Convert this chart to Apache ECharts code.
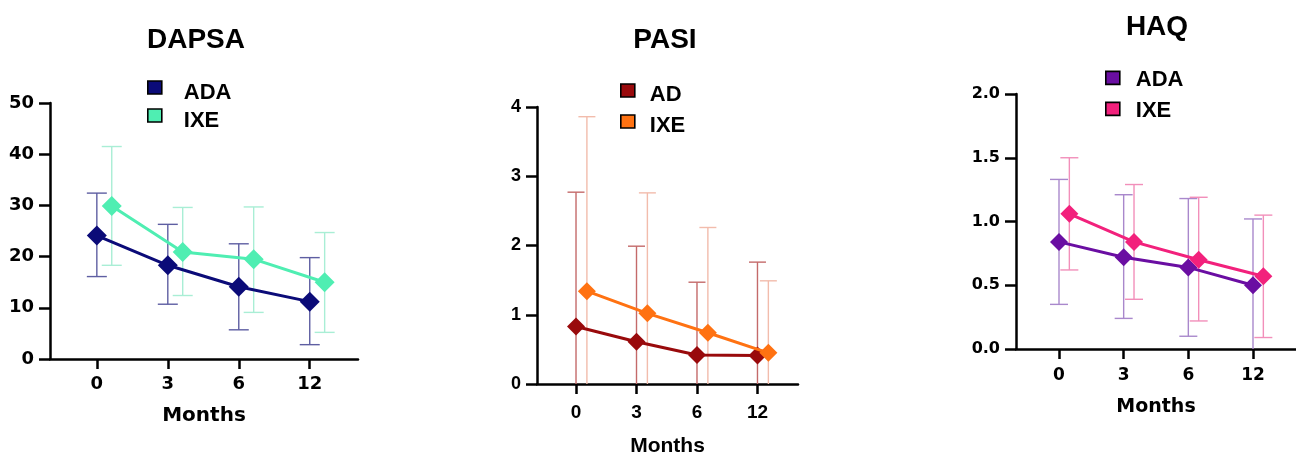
<!DOCTYPE html>
<html>
<head>
<meta charset="utf-8">
<script src="https://cdn.jsdelivr.net/npm/echarts@6/dist/echarts.min.js"></script>
<style>
html,body{margin:0;padding:0;background:#fff;}
#chart{width:1296px;height:455px;}
</style>
</head>
<body>
<div id="chart"></div>
<script>
// ---- data ----
const months = ['0', '3', '6', '12'];

const dapsaAdaMean = [24.1, 18.3, 14.1, 11.2];
const dapsaAdaLow  = [16.1, 10.7, 5.7, 2.8];
const dapsaAdaHigh = [32.4, 26.3, 22.5, 19.8];
const dapsaIxeMean = [29.9, 20.9, 19.5, 15.0];
const dapsaIxeLow  = [18.3, 12.4, 9.1, 5.2];
const dapsaIxeHigh = [41.5, 29.6, 29.7, 24.7];

const pasiAdaMean = [0.83, 0.61, 0.42, 0.41];
const pasiAdaLow  = [0, 0, 0, 0];
const pasiAdaHigh = [2.77, 1.99, 1.47, 1.76];
const pasiIxeMean = [1.34, 1.02, 0.74, 0.45];
const pasiIxeLow  = [0, 0, 0, 0];
const pasiIxeHigh = [3.86, 2.76, 2.26, 1.49];

const haqAdaMean = [0.84, 0.72, 0.64, 0.50];
const haqAdaLow  = [0.35, 0.24, 0.10, 0];
const haqAdaHigh = [1.33, 1.21, 1.18, 1.02];
const haqIxeMean = [1.06, 0.84, 0.70, 0.57];
const haqIxeLow  = [0.62, 0.39, 0.22, 0.09];
const haqIxeHigh = [1.50, 1.29, 1.19, 1.05];

// ---- helpers ----
const chart = echarts.init(document.getElementById('chart'), null, {renderer: 'canvas'});

function errRender(capHalf, color) {
  return function (params, api) {
    const x = api.value(0), lo = api.value(1), hi = api.value(2);
    const pLo = api.coord([x, lo]);
    const pHi = api.coord([x, hi]);
    const st = {stroke: color, lineWidth: 1.4};
    const ch = [
      {type: 'line', shape: {x1: pHi[0], y1: pHi[1], x2: pLo[0], y2: pLo[1]}, style: st},
      {type: 'line', shape: {x1: pHi[0] - capHalf, y1: pHi[1], x2: pHi[0] + capHalf, y2: pHi[1]}, style: st}
    ];
    if (lo > 0) {
      ch.push({type: 'line', shape: {x1: pLo[0] - capHalf, y1: pLo[1], x2: pLo[0] + capHalf, y2: pLo[1]}, style: st});
    }
    return {type: 'group', children: ch};
  };
}

function errData(low, high, off) {
  return low.map((l, i) => [i + off, l, high[i]]);
}
function lineData(mean, off) {
  return mean.map((v, i) => [i + off, v]);
}

const panels = [
  {key: 'DAPSA', title: 'DAPSA', grid: {left: 50, top: 103, width: 308, height: 256},
   xMin: -0.66, xMax: 3.68, yMax: 50, yInt: 10, yFmt: v => String(v),
   off: 0.21, tickFont: 'DejaVu Sans', yFs: 18, xFs: 18, nameFs: 20, nameFont: 'DejaVu Sans', nameGap: 47, xMargin: 16,
   titleX: 196, titleY: 26,
   legend: {left: 147, top: 71.5, lh: 10, padLeft: 17, gap: -4},
   names: ['ADA', 'IXE'],
   colors: ['#0b0b78', '#4feeb2'], errColors: ['#5e5ea2', '#a9eed5'],
   sym: 20, cap: 10,
   series: [[dapsaAdaMean, dapsaAdaLow, dapsaAdaHigh], [dapsaIxeMean, dapsaIxeLow, dapsaIxeHigh]]},
  {key: 'PASI', title: 'PASI', grid: {left: 537, top: 107, width: 261, height: 277},
   xMin: -0.645, xMax: 3.67, yMax: 4, yInt: 1, yFmt: v => String(v),
   off: 0.18, tickFont: 'Liberation Sans', yFs: 18, xFs: 19, nameFs: 21, nameFont: 'Liberation Sans', nameGap: 52, xMargin: 19,
   titleX: 665, titleY: 26,
   legend: {left: 620, top: 75.5, lh: 8, padLeft: 10, gap: 1},
   names: ['AD', 'IXE'],
   colors: ['#990a0c', '#ff7212'], errColors: ['#c46a6a', '#f2bcac'],
   sym: 18, cap: 8.5,
   series: [[pasiAdaMean, pasiAdaLow, pasiAdaHigh], [pasiIxeMean, pasiIxeLow, pasiIxeHigh]]},
  {key: 'HAQ', title: 'HAQ', grid: {left: 1016, top: 94, width: 280, height: 255},
   xMin: -0.665, xMax: 3.665, yMax: 2, yInt: 0.5, yFmt: v => v.toFixed(1),
   off: 0.16, tickFont: 'DejaVu Sans', yFs: 16, xFs: 17, nameFs: 19, nameFont: 'DejaVu Sans', nameGap: 49, xMargin: 18,
   titleX: 1157, titleY: 13,
   legend: {left: 1105, top: 64.4, lh: 5, padLeft: 11, gap: 4},
   names: ['ADA', 'IXE'],
   colors: ['#6a0ea2', '#f2217c'], errColors: ['#a988cc', '#f28fba'],
   sym: 18, cap: 9,
   series: [[haqAdaMean, haqAdaLow, haqAdaHigh], [haqIxeMean, haqIxeLow, haqIxeHigh]]}
];

const option = {
  backgroundColor: '#ffffff',
  animation: false,
  title: [], grid: [], xAxis: [], yAxis: [], legend: [], series: []
};

panels.forEach((p, k) => {
  option.title.push({
    text: p.title, left: p.titleX, top: p.titleY, textAlign: 'center', padding: 0,
    textStyle: {fontFamily: 'Liberation Sans', fontWeight: 'bold', fontSize: 28, color: '#000'}
  });
  option.grid.push(Object.assign({containLabel: false, outerBoundsMode: 'none'}, p.grid));
  option.xAxis.push({
    type: 'value', gridIndex: k, min: p.xMin, max: p.xMax,
    name: 'Months', nameLocation: 'middle', nameGap: p.nameGap,
    nameTextStyle: {fontFamily: p.nameFont, fontWeight: 'bold', fontSize: p.nameFs, color: '#000'},
    axisLine: {show: true, onZero: false, lineStyle: {color: '#000', width: 2.5}},
    axisTick: {show: true, length: 10, lineStyle: {color: '#000', width: 2.5}, customValues: [0, 1, 2, 3]},
    axisLabel: {customValues: [0, 1, 2, 3], formatter: v => months[Math.round(v)], margin: p.xMargin,
      fontFamily: p.tickFont, fontWeight: 'bold', fontSize: p.xFs, color: '#000'},
    splitLine: {show: false}
  });
  option.yAxis.push({
    type: 'value', gridIndex: k, min: 0, max: p.yMax, interval: p.yInt,
    axisLine: {show: true, onZero: false, lineStyle: {color: '#000', width: 2.5}},
    axisTick: {show: true, length: 11, lineStyle: {color: '#000', width: 2.5}},
    axisLabel: {formatter: p.yFmt, margin: 16, fontFamily: p.tickFont, fontWeight: 'bold', fontSize: p.yFs, color: '#000'},
    splitLine: {show: false}
  });
  const sNames = p.names.map(n => p.key + '|' + n);
  option.legend.push({
    data: sNames, orient: 'vertical', left: p.legend.left, top: p.legend.top, padding: 0,
    icon: 'rect', itemWidth: 14, itemHeight: 13, itemGap: p.legend.gap, selectedMode: false,
    formatter: n => '\n' + n.split('|')[1],
    itemStyle: {borderColor: '#000', borderWidth: 1.6},
    textStyle: {fontFamily: 'Liberation Sans', fontWeight: 'bold', fontSize: 22, color: '#000',
      padding: [0, 0, 0, p.legend.padLeft], lineHeight: p.legend.lh}
  });
  p.series.forEach((s, j) => {
    const off = j === 0 ? 0 : p.off;
    option.series.push({
      type: 'custom', xAxisIndex: k, yAxisIndex: k, z: 1, silent: true,
      renderItem: errRender(p.cap, p.errColors[j]),
      data: errData(s[1], s[2], off)
    });
    option.series.push({
      type: 'line', name: sNames[j], xAxisIndex: k, yAxisIndex: k, z: 3 + j,
      data: lineData(s[0], off), symbol: 'diamond', symbolSize: p.sym,
      lineStyle: {color: p.colors[j], width: 3},
      itemStyle: {color: p.colors[j]},
      emphasis: {disabled: true}
    });
  });
});

chart.setOption(option);
</script>
</body>
</html>
